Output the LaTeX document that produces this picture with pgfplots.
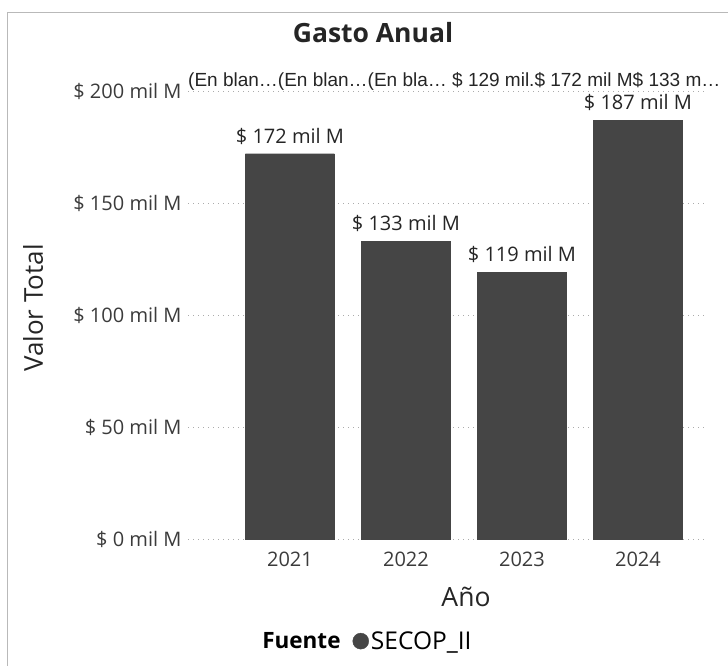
\documentclass[border=0pt]{standalone}
\usepackage{pgfplots}
\pgfplotsset{compat=1.18}
\usepackage{fontspec}
\setmainfont{Open Sans}
\newfontfamily\arialfont{Liberation Sans}
\definecolor{barfill}{HTML}{454545}
\definecolor{gridgray}{HTML}{ABABAB}
\definecolor{txt}{HTML}{252525}

\begin{document}
\begin{tikzpicture}
\path[use as bounding box] (0pt,0pt) rectangle (728pt,666pt);
\draw[gray!55, line width=1pt] (7pt,0pt) -- (7pt,653pt) -- (728pt,653pt);
\node[font=\bfseries\fontsize{26.5}{30}\selectfont, text=txt] at (373pt,633pt) {Gasto Anual};
\node[font=\fontsize{26}{30}\selectfont, text=txt, rotate=90] at (33pt,358pt) {Valor Total};
\node[font=\fontsize{26.5}{30}\selectfont, text=txt] at (466pt,69pt) {Año};

\begin{axis}[
  at={(188pt,127pt)}, anchor=south west,
  scale only axis, width=517pt, height=448pt,
  axis line style={draw=none}, clip=false,
  /pgf/number format/assume math mode=true,
  xmin=-0.879, xmax=3.578,
  ymin=0, ymax=200,
  xtick=data, xticklabels={2021,2022,2023,2024},
  ytick={0,50,100,150,200},
  yticklabels={\$ 0 mil M,\$ 50 mil M,\$ 100 mil M,\$ 150 mil M,\$ 200 mil M},
  major tick length=0pt, tick style={draw=none},
  ymajorgrids,
  grid style={gridgray, line width=0.8pt, dash pattern=on 1pt off 4pt},
  tick label style={font=\fontsize{20}{24}\selectfont, text=txt!90},
  yticklabel style={xshift=-3pt},
  xticklabel style={yshift=-9pt},
  legend style={draw=none, fill=none, at={(0.346,-0.228)}, anchor=center,
    legend columns=2,
    /tikz/every even column/.append style={column sep=10pt}},
  legend image code/.code={\fill[barfill] (0.3em,0pt) circle (8pt);},
]
\addlegendimage{empty legend}
\addlegendentry{\fontsize{22.5}{26}\selectfont\textbf{Fuente}}
\addplot[ybar, bar width=89pt, fill=barfill, draw=barfill,
  nodes near coords={\$ \pgfmathprintnumber{\pgfplotspointmeta} mil M},
  nodes near coords style={font=\fontsize{20}{24}\selectfont, text=txt, yshift=6pt}]
  coordinates {(0,172) (1,133) (2,119) (3,187)};
\addlegendentry{\fontsize{24.5}{28}\selectfont SECOP\_II}
\end{axis}

\node[font=\arialfont\fontsize{19}{22}\selectfont, text=txt, anchor=west, inner sep=0pt]
  at (188pt,585pt) {(En blan…(En blan…(En bla… \$ 129 mil.\$ 172 mil M\$ 133 m…};
\end{tikzpicture}
\end{document}
